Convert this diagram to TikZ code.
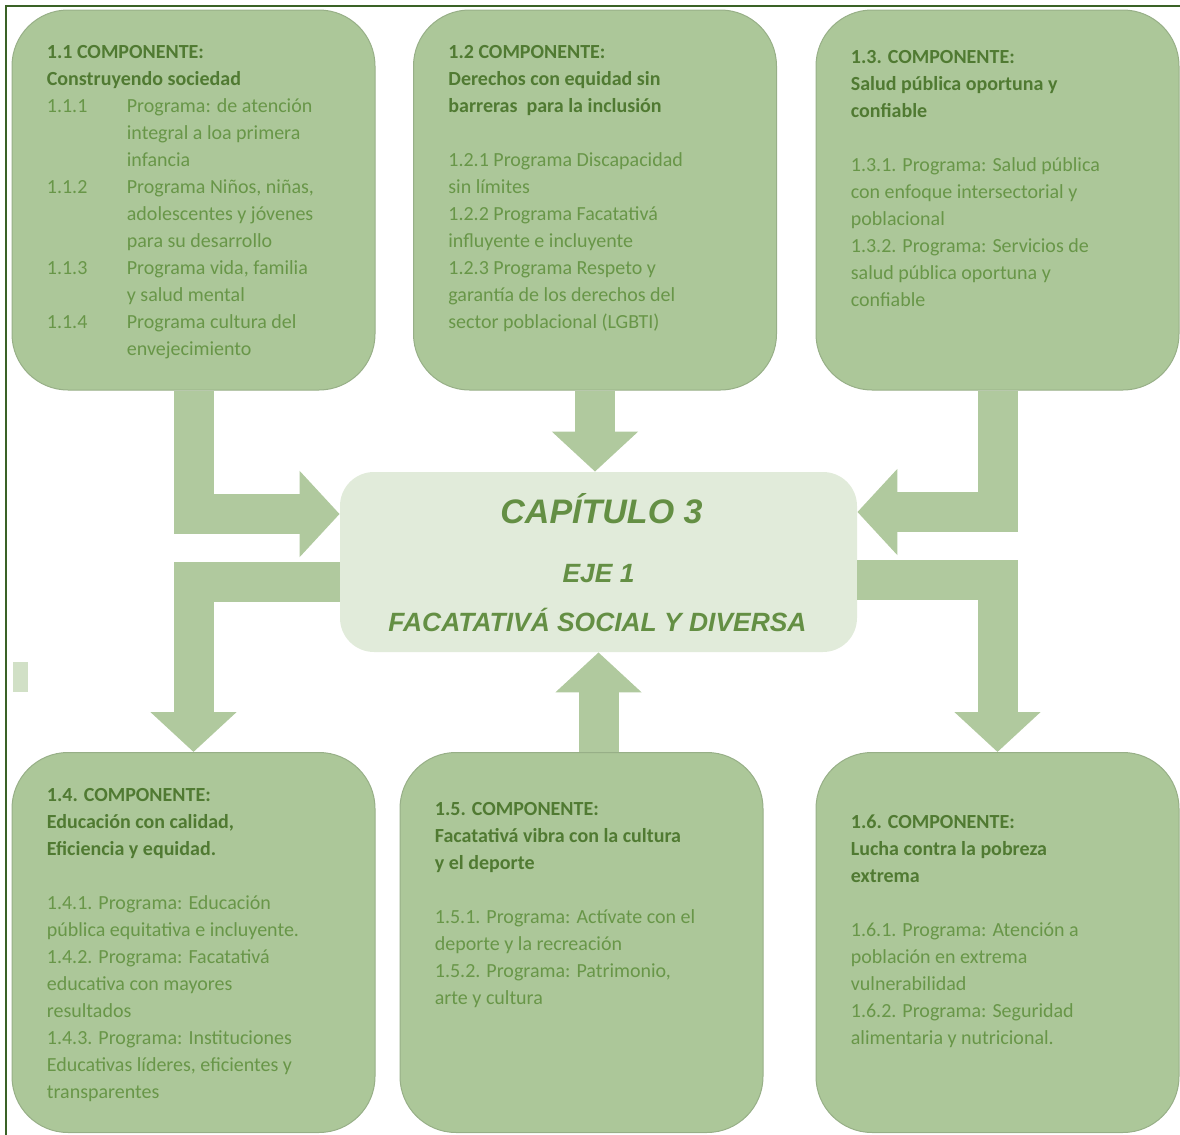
\documentclass[tikz,border=0pt]{standalone}
\usepackage{fontspec}
\setmainfont{Carlito}
\newfontfamily\arialf{Liberation Sans}
\usetikzlibrary{arrows.meta,calc}
\definecolor{boxgreen}{RGB}{172,199,153}
\definecolor{arrgreen}{RGB}{176,201,158}
\definecolor{capgreen}{RGB}{225,235,218}
\definecolor{headgreen}{RGB}{80,122,50}
\definecolor{proggreen}{RGB}{104,150,72}
\definecolor{capfont}{RGB}{100,143,68}
\definecolor{framegreen}{RGB}{58,98,38}
\newcommand{\hd}[1]{{\bfseries\color{headgreen}#1}}
\newcommand{\pnum}[1]{\makebox[40pt][l]{#1}}
\newcommand{\pind}{\hspace*{40pt}}

\begin{document}
\begin{tikzpicture}
  [x=0.5pt,y=-0.5pt,
   boxN/.style={draw=boxgreen!88!black,line width=0.5pt,fill=boxgreen,rounded corners=28pt,
                minimum width=181.5pt,minimum height=190pt,inner sep=0pt},
   capN/.style={fill=capgreen,rounded corners=17pt,minimum width=258.5pt,minimum height=90pt,inner sep=0pt},
   txtN/.style={anchor=north west,align=left,inner sep=0pt,text=proggreen,
                font=\fontsize{10pt}{13.5pt}\selectfont},
   capT/.style={anchor=base,inner sep=0pt,text=capfont},
   bigArr/.style={draw=arrgreen,line width=20pt,line join=miter,-{Triangle[length=20pt,width=42pt]}},
  ]
 \useasboundingbox (0,0) rectangle (1180,1135);

 % frame
 \draw[framegreen,line width=1.25pt] (6,1135) -- (6,6) -- (1180,6);
 \fill[capgreen!70!boxgreen] (13,662) rectangle (28,692);

 % components
 \node[boxN] (c11) at (193.5,200)   {};
 \node[boxN] (c12) at (595,200)     {};
 \node[boxN] (c13) at (997.5,200)   {};
 \node[boxN] (c14) at (193.5,942.5) {};
 \node[boxN] (c15) at (581.5,942.5) {};
 \node[boxN] (c16) at (997.5,942.5) {};

 \node[capN] (cap) at (598.5,562) {};

 \node[txtN] (t11) at ($(c11.north west)+(35,35)$)
   {\hd{1.1 COMPONENTE:}\\ \hd{Construyendo sociedad}\\
    \pnum{1.1.1}Programa: de atención\\ \pind integral a loa primera\\ \pind infancia\\
    \pnum{1.1.2}Programa Niños, niñas,\\ \pind adolescentes y jóvenes\\ \pind para su desarrollo\\
    \pnum{1.1.3}Programa vida, familia\\ \pind y salud mental\\
    \pnum{1.1.4}Programa cultura del\\ \pind envejecimiento};
 \node[txtN] (t12) at ($(c12.north west)+(35,35)$)
   {\hd{1.2 COMPONENTE:}\\ \hd{Derechos con equidad sin}\\ \hd{barreras\ \ para la inclusión}\\[13.5pt]
    1.2.1 Programa Discapacidad\\ sin límites\\
    1.2.2 Programa Facatativá\\ influyente e incluyente\\
    1.2.3 Programa Respeto y\\ garantía de los derechos del\\ sector poblacional (LGBTI)};
 \node[txtN] (t13) at ($(c13.north west)+(35,40)$)
   {\hd{1.3. COMPONENTE:}\\ \hd{Salud pública oportuna y}\\ \hd{confiable}\\[13.5pt]
    1.3.1. Programa: Salud pública\\ con enfoque intersectorial y\\ poblacional\\
    1.3.2. Programa: Servicios de\\ salud pública oportuna y\\ confiable};
 \node[txtN] (t14) at ($(c14.north west)+(35,36)$)
   {\hd{1.4. COMPONENTE:}\\ \hd{Educación con calidad,}\\ \hd{Eficiencia y equidad.}\\[13.5pt]
    1.4.1. Programa: Educación\\ pública equitativa e incluyente.\\
    1.4.2. Programa: Facatativá\\ educativa con mayores\\ resultados\\
    1.4.3. Programa: Instituciones\\ Educativas líderes, eficientes y\\ transparentes};
 \node[txtN] (t15) at ($(c15.north west)+(35,50)$)
   {\hd{1.5. COMPONENTE:}\\ \hd{Facatativá vibra con la cultura}\\ \hd{y el deporte}\\[13.5pt]
    1.5.1. Programa: Actívate con el\\ deporte y la recreación\\
    1.5.2. Programa: Patrimonio,\\ arte y cultura};
 \node[txtN] (t16) at ($(c16.north west)+(35,62)$)
   {\hd{1.6. COMPONENTE:}\\ \hd{Lucha contra la pobreza}\\ \hd{extrema}\\[13.5pt]
    1.6.1. Programa: Atención a\\ población en extrema\\ vulnerabilidad\\
    1.6.2. Programa: Seguridad\\ alimentaria y nutricional.};

 \node[capT,font=\arialf\bfseries\itshape\fontsize{17pt}{17pt}\selectfont] (ttl)
   at ($(cap.center)+(3,-39)$) {CAPÍTULO 3};
 \node[capT,font=\arialf\bfseries\itshape\fontsize{13.2pt}{13.2pt}\selectfont] (eje)
   at ($(cap.center)+(0,20)$) {EJE 1};
 \node[capT,font=\arialf\bfseries\itshape\fontsize{13.2pt}{13.2pt}\selectfont] (lema)
   at ($(cap.center)+(-1,69)$) {FACATATIVÁ SOCIAL Y DIVERSA};

 % arrows
 \draw[bigArr] (c11.south) |- ($(cap.west)+(0,-48)$);
 \draw[bigArr] (c12.south) -- (c12.south |- cap.north);
 \draw[bigArr] (c13.south) |- ($(cap.east)+(0,-50)$);
 \draw[bigArr] ($(cap.west)+(0,20)$) -| (c14.north);
 \draw[bigArr] (c15.north -| cap.south) -- (cap.south);
 \draw[bigArr] ($(cap.east)+(0,18)$) -| (c16.north);

\end{tikzpicture}
\end{document}
